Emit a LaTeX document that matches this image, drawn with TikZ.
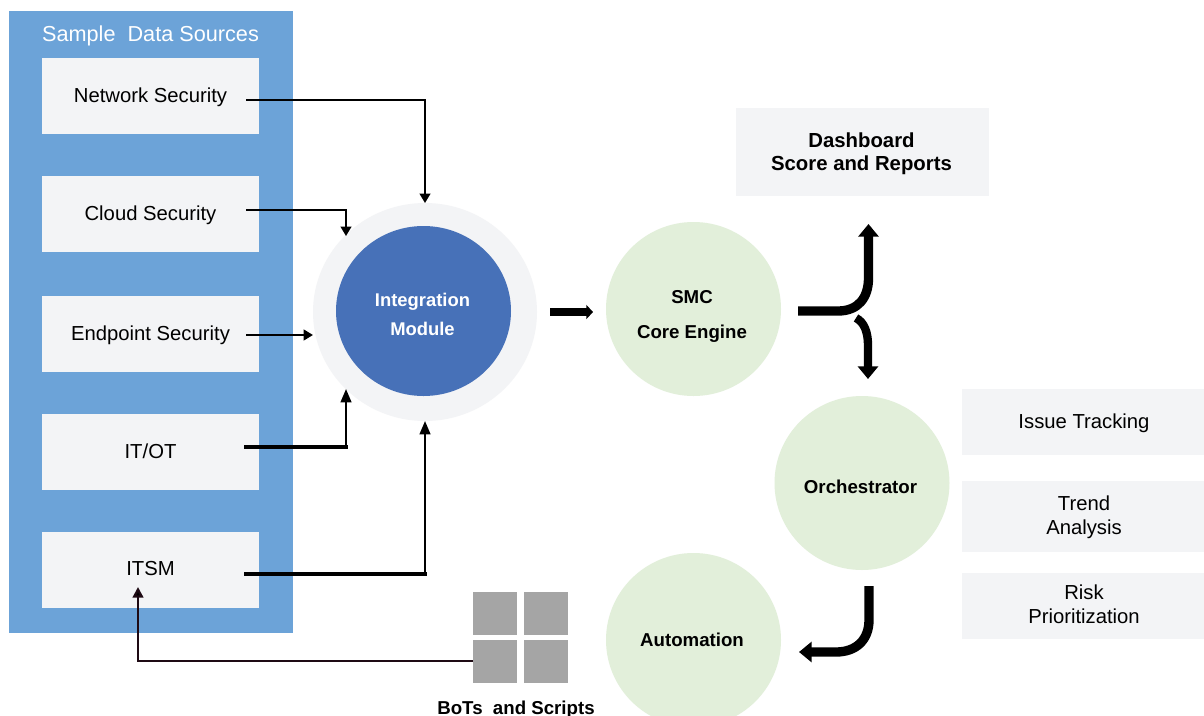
\documentclass[tikz,border=0pt]{standalone}
\usepackage{fontspec}
\setmainfont{Liberation Sans}
\usetikzlibrary{arrows.meta,shapes.geometric}
\definecolor{panelblue}{HTML}{6CA3D8}
\definecolor{boxgrey}{HTML}{F3F4F6}
\definecolor{coreblue}{HTML}{4771B8}
\definecolor{palegreen}{HTML}{E2EFDA}
\definecolor{squaregrey}{HTML}{A5A5A5}
\definecolor{darkmaroon}{HTML}{1E0A14}
\tikzset{
  x=0.75pt,y=-0.75pt,
  sz/.style 2 args={minimum width=#1*0.75pt,minimum height=#2*0.75pt},
  flat/.style={inner sep=0pt,outer sep=0pt,draw=none},
  srcbox/.style={flat,rectangle,fill=boxgrey,sz={217}{76}},
  srctext/.style={flat,font=\fontsize{15.2}{18}\selectfont},
  sidebox/.style={flat,rectangle,fill=boxgrey,sz={242}{66}},
  sidetext/.style={flat,align=center,font=\fontsize{15.2}{18}\selectfont},
  greencirc/.style={flat,ellipse,fill=palegreen,sz={175}{174}},
  greentext/.style={flat,align=center,font=\bfseries\fontsize{14}{26.25}\selectfont},
  square/.style={flat,rectangle,fill=squaregrey,sz={44}{43}},
  mid link/.style={line width=1.4pt,-{Triangle[width=8pt,length=7pt]}},
  long link/.style={line width=1.6pt,-{Triangle[width=8pt,length=10pt]}},
  fat link/.style={line width=7pt,-{Triangle[width=15pt,length=9.5pt]}},
}
\begin{document}
\begin{tikzpicture}
\useasboundingbox (0,0) rectangle (1204,715);
\clip (0,0) rectangle (1204,715);
\fill[white] (0,0) rectangle (1204,715);
% left panel
\node[flat,rectangle,fill=panelblue,sz={284}{622},anchor=north west] (panel) at (9,11) {};
\node[flat,text=white,font=\fontsize{16.25}{18}\selectfont] (paneltitle) at (150.5,36) {Sample\ \ Data Sources};
\node[srcbox] (net) at (150.5,96) {};
\node[srctext] (netl) at (150.5,97) {Network Security};
\node[srcbox] (cloud) at (150.5,214) {};
\node[srctext] (cloudl) at (150.5,215) {Cloud Security};
\node[srcbox] (end) at (150.5,334) {};
\node[srctext] (endl) at (150.5,335) {Endpoint Security};
\node[srcbox] (itot) at (150.5,452) {};
\node[srctext] (itotl) at (150.5,451) {IT/OT};
\node[srcbox] (itsm) at (150.5,570) {};
\node[srctext] (itsml) at (150.5,569) {ITSM};
% integration
\node[flat,ellipse,fill=boxgrey,sz={224}{218}] (outer) at (425,312) {};
\node[flat,ellipse,fill=coreblue,sz={175}{170}] (inner) at (423.5,311) {};
\node[flat,text=white,align=center,font=\bfseries\fontsize{13.8}{21.75}\selectfont] (innerl) at (422.5,314.5) {Integration\\Module};
% green circles
\node[greencirc] (smc) at (693.5,309) {};
\node[greentext] (smcl) at (692,316.5) {SMC\\Core Engine};
\node[greencirc] (orch) at (862,483) {};
\node[greentext] (orchl) at (860.5,487) {Orchestrator};
\node[greencirc] (auto) at (693.5,640) {};
\node[greentext] (autol) at (692,640) {Automation};
% right boxes
\node[flat,rectangle,fill=boxgrey,sz={253}{88}] (dash) at (862.5,152) {};
\node[flat,align=center,font=\bfseries\fontsize{15.25}{17.5}\selectfont] (dashl) at (861.5,154) {Dashboard\\Score and Reports};
\node[sidebox] (issue) at (1083,422) {};
\node[sidetext] (issuel) at (1084,423) {Issue Tracking};
\node[sidebox,sz={242}{71}] (trend) at (1083,516.5) {};
\node[sidetext] (trendl) at (1084,517.5) {Trend\\Analysis};
\node[sidebox] (risk) at (1083,606) {};
\node[sidetext] (riskl) at (1084,604.5) {Risk\\Prioritization};
% squares
\node[square,anchor=north west] (s1) at (473,592) {};
\node[square,anchor=north west] (s2) at (524,592) {};
\node[square,anchor=north west] (s3) at (473,640) {};
\node[square,anchor=north west] (s4) at (524,640) {};
\node[flat,font=\bfseries\fontsize{14}{16}\selectfont] (bots) at (516,709.5) {BoTs\ \ and Scripts};
% connector ends
\coordinate (netout) at (246,100);
\coordinate (netin) at (425,203);
\coordinate (cloudout) at (246,210);
\coordinate (cloudin) at (346,236);
\coordinate (endout) at (246,335);
\coordinate (endin) at (313,335);
\coordinate (itotout) at (246,447);
\coordinate (itotcorner) at (346,447);
\coordinate (itotin) at (346,389);
\coordinate (itsmout) at (246,574);
\coordinate (itsmcorner) at (425,574);
\coordinate (itsmin) at (425,421);
\coordinate (botsout) at (473,661);
\coordinate (botsin) at (138,587);
\coordinate (coreout) at (550,312);
\coordinate (corein) at (593,312);
\coordinate (splitstart) at (798,311);
\coordinate (dashin) at (868.5,224);
\coordinate (orchstart) at (856,318);
\coordinate (orchin) at (868,379);
\coordinate (orchout) at (869,586);
\coordinate (autoin) at (799,652);
% connectors
\draw[mid link] (netout) -| (netin);
\draw[mid link] (cloudout) -| (cloudin);
\draw[mid link,line width=1.6pt] (endout) -- (endin);
\draw[long link] (itotout) -| (itotin);
\draw[line width=3pt,line cap=rect] (itotout) -- (itotcorner);
\draw[long link] (itsmout) -| (itsmin);
\draw[line width=2.4pt,line cap=rect] (itsmout) -- (itsmcorner);
\draw[line width=1.7pt,draw=darkmaroon,-{Triangle[width=8pt,length=8pt,fill=black]}] (botsout) -| (botsin);
\draw[fat link,line width=6pt,-{Triangle[width=10.5pt,length=5pt]}] (coreout) -- (corein);
\draw[fat link] (splitstart) -- (838,311) .. controls (858,311) and (868.5,298) .. (868.5,278) -- (dashin);
\draw[fat link,line width=6.25pt] (orchstart) .. controls (864,322) and (868,332) .. (868,345) -- (orchin);
\draw[fat link] (orchout) -- (869,620) .. controls (869,640) and (856,652) .. (836,652) -- (autoin);
\end{tikzpicture}
\end{document}
